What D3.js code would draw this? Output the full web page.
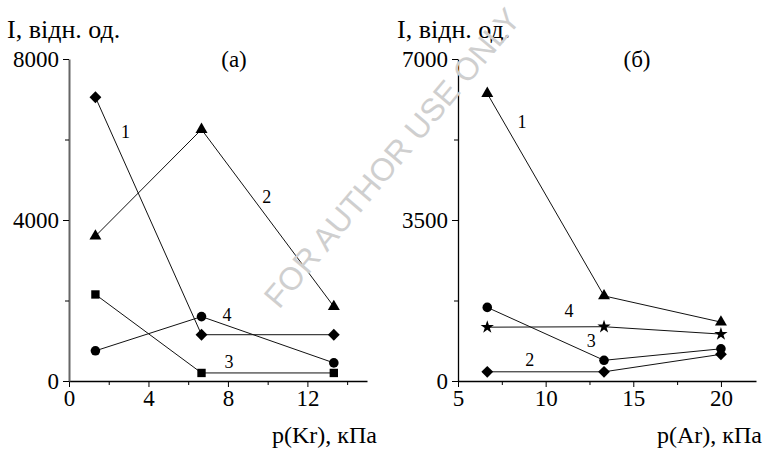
<!DOCTYPE html>
<html>
<head>
<meta charset="utf-8">
<script src="https://cdn.jsdelivr.net/npm/d3@7"></script>
<style>
  body { margin: 0; background: #fff; }
</style>
</head>
<body>
<div id="chart"></div>
<script>
// ---- data ----
// panel (a): krypton pressure, kPa
let krPressure = [1.33, 6.67, 13.33];
let krCurve1 = [7050, 1150, 1150]; // diamonds
let krCurve2 = [3600, 6250, 1850]; // triangles
let krCurve3 = [2150, 200, 200];   // squares
let krCurve4 = [750, 1600, 450];   // circles
let krMajorX = [0, 4, 8, 12];
let krMinorX = [2, 6, 10, 14];
let krMajorY = [0, 4000, 8000];
let krMinorY = [2000, 6000];
// curve number labels, in data units
let krLabelText = ["1", "2", "3", "4"];
let krLabelX = [2.85, 9.95, 8.05, 7.95];
let krLabelY = [6180, 4570, 470, 1640];

// panel (б): argon pressure, kPa
let arPressure = [6.67, 13.33, 20];
let arCurve1 = [6250, 1850, 1280]; // triangles
let arCurve2 = [200, 200, 580];    // diamonds
let arCurve3 = [1600, 450, 700];   // circles
let arCurve4 = [1170, 1180, 1020]; // stars
let arMajorX = [5, 10, 15, 20];
let arMinorX = [7.5, 12.5, 17.5];
let arMajorY = [0, 3500, 7000];
let arMinorY = [1750, 5250];
let arLabelText = ["1", "2", "3", "4"];
let arLabelX = [8.65, 9.1, 12.6, 11.33];
let arLabelY = [5630, 456, 870, 1520];

let width = 766, height = 449;
let serif = "Liberation Serif"; // single name only, font lists did not resolve

let svg = d3.select("#chart").append("svg")
  .attr("width", width)
  .attr("height", height)
  .attr("font-family", serif);

// d3.axis puts font-family="sans-serif" on its group - undo that
function serifAxis(a) {
  a.attr("font-family", serif).attr("font-size", 23);
  a.selectAll("text").attr("font-family", serif).attr("font-size", 23).attr("fill", "#000");
}

// draws one panel: scales, axes, lines, markers, labels
function drawPanel(p) {
  let x = d3.scaleLinear().domain(p.xDomain).range([p.left, p.right]);
  let y = d3.scaleLinear().domain(p.yDomain).range([p.bottom, p.top]);
  let g = svg.append("g");

  // x axis - major ticks with labels, minor ticks without
  g.append("g")
    .attr("transform", `translate(0,${p.bottom})`)
    .call(d3.axisBottom(x).tickValues(p.majorX).tickFormat(d3.format("d"))
      .tickSize(6).tickSizeOuter(0).tickPadding(3))
    .call(serifAxis)
    .call(a => a.select(".domain").attr("stroke", "#000").attr("stroke-width", 1.3));
  g.append("g")
    .attr("transform", `translate(0,${p.bottom})`)
    .call(d3.axisBottom(x).tickValues(p.minorX).tickSize(4).tickFormat(""))
    .call(serifAxis)
    .call(a => a.select(".domain").remove());

  // y axis
  g.append("g")
    .attr("transform", `translate(${p.left},0)`)
    .call(d3.axisLeft(y).tickValues(p.majorY).tickFormat(d3.format("d"))
      .tickSize(6).tickSizeOuter(0).tickPadding(4))
    .call(serifAxis)
    .call(a => a.select(".domain").attr("stroke", p.yAxisColor).attr("stroke-width", p.yAxisWidth));
  g.append("g")
    .attr("transform", `translate(${p.left},0)`)
    .call(d3.axisLeft(y).tickValues(p.minorY).tickSize(4).tickFormat(""))
    .call(serifAxis)
    .call(a => a.select(".domain").remove());

  let line = d3.line().x(d => x(d[0])).y(d => y(d[1]));

  p.curves.forEach(c => {
    let pts = p.pressure.map((px, i) => [px, c.values[i]]);
    g.append("path")
      .datum(pts)
      .attr("d", line)
      .attr("fill", "none")
      .attr("stroke", "#111")
      .attr("stroke-width", 1);
    g.selectAll(null)
      .data(pts)
      .enter()
      .append("path")
      .attr("d", d3.symbol().type(c.symbol).size(c.size))
      .attr("transform", d => `translate(${x(d[0])},${y(d[1])}) rotate(${c.rotate || 0})`)
      .attr("fill", "#000");
  });

  // curve numbers
  p.labelText.forEach((t, i) => {
    g.append("text")
      .attr("x", x(p.labelX[i]))
      .attr("y", y(p.labelY[i]))
      .attr("text-anchor", "middle")
      .attr("dominant-baseline", "central")
      .attr("font-family", serif)
      .attr("font-size", 18)
      .text(t);
  });

  // axis titles and panel letter
  g.append("text")
    .attr("x", p.titleX).attr("y", 38)
    .attr("font-family", serif)
    .attr("font-size", 26)
    .text("I, відн. од.");
  g.append("text")
    .attr("x", p.letterX).attr("y", 67)
    .attr("text-anchor", "middle")
    .attr("font-family", serif)
    .attr("font-size", 23)
    .text(p.letter);
  g.append("text")
    .attr("x", p.xLabelRight).attr("y", 443)
    .attr("text-anchor", "end")
    .attr("font-family", serif)
    .attr("font-size", 24)
    .text(p.xLabel);
}

drawPanel({
  xDomain: [0, 15], yDomain: [0, 8000],
  left: 69, right: 367, top: 59, bottom: 381,
  majorX: krMajorX, minorX: krMinorX, majorY: krMajorY, minorY: krMinorY,
  yAxisColor: "#666", yAxisWidth: 2,
  pressure: krPressure,
  curves: [
    { values: krCurve1, symbol: d3.symbolSquare, size: 70, rotate: 45 },
    { values: krCurve2, symbol: d3.symbolTriangle, size: 62 },
    { values: krCurve3, symbol: d3.symbolSquare, size: 70 },
    { values: krCurve4, symbol: d3.symbolCircle, size: 72 }
  ],
  labelText: krLabelText, labelX: krLabelX, labelY: krLabelY,
  titleX: 7, letterX: 234, letter: "(a)",
  xLabelRight: 377, xLabel: "p(Kr), кПа"
});

drawPanel({
  xDomain: [5, 22], yDomain: [0, 7000],
  left: 458, right: 756, top: 59, bottom: 381,
  majorX: arMajorX, minorX: arMinorX, majorY: arMajorY, minorY: arMinorY,
  yAxisColor: "#000", yAxisWidth: 1.3,
  pressure: arPressure,
  curves: [
    { values: arCurve1, symbol: d3.symbolTriangle, size: 62 },
    { values: arCurve2, symbol: d3.symbolSquare, size: 70, rotate: 45 },
    { values: arCurve3, symbol: d3.symbolCircle, size: 72 },
    { values: arCurve4, symbol: d3.symbolStar, size: 55 }
  ],
  labelText: arLabelText, labelX: arLabelX, labelY: arLabelY,
  titleX: 397, letterX: 637, letter: "(б)",
  xLabelRight: 762, xLabel: "p(Ar), кПа"
});

// watermark over the middle
svg.append("text")
  .attr("transform", "translate(392,158) rotate(-50)")
  .attr("text-anchor", "middle")
  .attr("dominant-baseline", "central")
  .attr("font-family", "Liberation Sans")
  .attr("font-size", 32)
  .attr("fill", "#cfcfcf")
  .text("FOR AUTHOR USE ONLY");
</script>
</body>
</html>
